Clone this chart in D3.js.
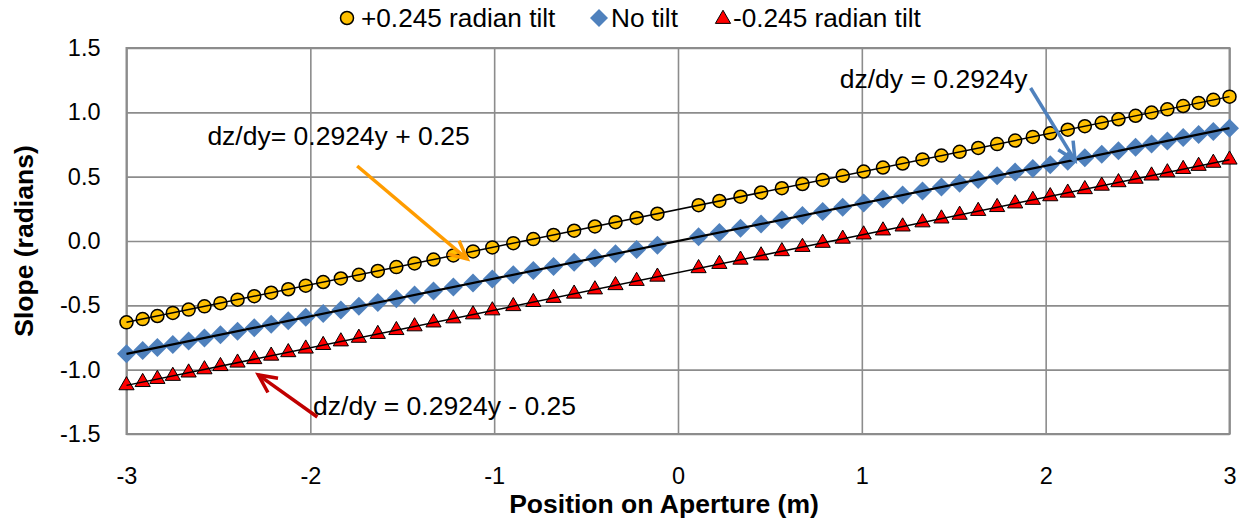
<!DOCTYPE html>
<html><head><meta charset="utf-8">
<script src="https://cdn.jsdelivr.net/npm/d3@7"></script>
<style>body{margin:0;background:#fff}svg{display:block;font-family:"Liberation Sans",Arial,sans-serif}</style>
</head><body><svg id="c" width="1241" height="520"></svg>
<script>
const position = [-3.0,-2.912,-2.832,-2.748,-2.662,-2.576,-2.489,-2.396,-2.305,-2.213,-2.120,-2.025,-1.930,-1.834,-1.736,-1.633,-1.532,-1.433,-1.330,-1.222,-1.115,-1.010,-0.896,-0.787,-0.677,-0.565,-0.452,-0.340,-0.225,-0.112,
 0.112,0.225,0.340,0.452,0.565,0.677,0.787,0.896,1.010,1.115,1.222,1.330,1.433,1.532,1.633,1.736,1.834,1.930,2.025,2.120,2.213,2.305,2.396,2.489,2.576,2.662,2.748,2.832,2.912,3.0];
const plusTilt = [-0.632,-0.607,-0.583,-0.559,-0.533,-0.508,-0.483,-0.456,-0.429,-0.402,-0.375,-0.347,-0.319,-0.291,-0.263,-0.233,-0.203,-0.174,-0.144,-0.112,-0.081,-0.050,-0.017,0.015,0.047,0.080,0.113,0.146,0.179,0.212,
 0.278,0.311,0.344,0.377,0.410,0.443,0.475,0.507,0.540,0.571,0.602,0.634,0.664,0.693,0.723,0.753,0.781,0.809,0.837,0.865,0.892,0.919,0.946,0.973,0.998,1.023,1.049,1.073,1.097,1.122];
const noTilt = [-0.877,-0.852,-0.828,-0.804,-0.778,-0.753,-0.728,-0.701,-0.674,-0.647,-0.620,-0.592,-0.564,-0.536,-0.508,-0.478,-0.448,-0.419,-0.389,-0.357,-0.326,-0.295,-0.262,-0.230,-0.198,-0.165,-0.132,-0.099,-0.066,-0.033,
 0.033,0.066,0.099,0.132,0.165,0.198,0.230,0.262,0.295,0.326,0.357,0.389,0.419,0.448,0.478,0.508,0.536,0.564,0.592,0.620,0.647,0.674,0.701,0.728,0.753,0.778,0.804,0.828,0.852,0.877];
const minusTilt = [-1.122,-1.097,-1.073,-1.049,-1.023,-0.998,-0.973,-0.946,-0.919,-0.892,-0.865,-0.837,-0.809,-0.781,-0.753,-0.723,-0.693,-0.664,-0.634,-0.602,-0.571,-0.540,-0.507,-0.475,-0.443,-0.410,-0.377,-0.344,-0.311,-0.278,
 -0.212,-0.179,-0.146,-0.113,-0.080,-0.047,-0.015,0.017,0.050,0.081,0.112,0.144,0.174,0.203,0.233,0.263,0.291,0.319,0.347,0.375,0.402,0.429,0.456,0.483,0.508,0.533,0.559,0.583,0.607,0.632];
const seriesNames = ["+0.245 radian tilt","No tilt","-0.245 radian tilt"];
const trendSlope = [0.2924,0.2924,0.2924];
const trendIntercept = [0.245,0,-0.245];
const xTicks = [-3,-2,-1,0,1,2,3];
const yTicks = [-1.5,-1.0,-0.5,0.0,0.5,1.0,1.5];
const annotationTexts = ["dz/dy= 0.2924y + 0.25","dz/dy = 0.2924y","dz/dy = 0.2924y - 0.25"];
const annotationAnchor = [[-2.56,0.746],[0.88,1.189],[-1.985,-1.352]];
const arrowStart = [[-1.745,0.583],[1.918,1.189],[-1.962,-1.368]];
const arrowEnd = [[-1.147,-0.14],[2.16,0.625],[-2.283,-1.041]];
const arrowColors = ["#FF9C00","#4F81BD","#C00000"];

const svg = d3.select("#c");
const x = d3.scaleLinear().domain([-3,3]).range([126.5,1229.5]);
const y = d3.scaleLinear().domain([-1.5,1.5]).range([434,48]);
const grid = "#8c8c8c";
const hy = f => v => f(v).replace("\u2212","-");

// gridlines
svg.append("g").attr("transform","translate(0,434)")
  .call(d3.axisBottom(x).tickValues(xTicks).tickSize(-386).tickFormat(hy(d3.format("d"))))
  .call(g=>{g.select(".domain").remove();
    g.selectAll(".tick line").attr("stroke",grid).attr("stroke-width",1.6);
    g.selectAll(".tick text").attr("y",33).attr("font-size",23.5).attr("fill","#000").attr("font-family","Liberation Sans, Arial");});
svg.append("g").attr("transform","translate(126.5,0)")
  .call(d3.axisLeft(y).tickValues(yTicks).tickSize(-1103).tickFormat(hy(d3.format(".1f"))))
  .call(g=>{g.select(".domain").remove();
    g.selectAll(".tick line").attr("stroke",grid).attr("stroke-width",1.6);
    g.selectAll(".tick text").attr("x",-26).attr("font-size",23.5).attr("fill","#000").attr("font-family","Liberation Sans, Arial");});
svg.append("rect").attr("x",x(-3)).attr("y",y(1.5)).attr("width",x(3)-x(-3)).attr("height",y(-1.5)-y(1.5))
  .attr("fill","none").attr("stroke",grid).attr("stroke-width",2);

const pts = (arr)=>position.map((p,i)=>[p,arr[i]]);
// diamonds
const dia = (cx,cy,h)=>`M${cx},${cy-h}L${cx+h},${cy}L${cx},${cy+h}L${cx-h},${cy}Z`;
svg.append("g").selectAll("path").data(pts(noTilt)).join("path")
  .attr("d",d=>dia(x(d[0]),y(d[1]),9.5)).attr("fill","#4F81BD");
// circles
svg.append("g").selectAll("circle").data(pts(plusTilt)).join("circle")
  .attr("cx",d=>x(d[0])).attr("cy",d=>y(d[1])).attr("r",6.5)
  .attr("fill","#FFC000").attr("stroke","#000").attr("stroke-width",1.5);
// triangles
const tri = d3.symbol().type(d3.symbolTriangle).size(100);
svg.append("g").selectAll("path").data(pts(minusTilt)).join("path")
  .attr("transform",d=>`translate(${x(d[0])},${y(d[1])})`).attr("d",tri)
  .attr("fill","#FF0000").attr("stroke","#000").attr("stroke-width",1);

// trendlines
trendSlope.forEach((s,i)=>{
  svg.append("line").attr("x1",x(-3)).attr("y1",y(s*-3+trendIntercept[i]))
    .attr("x2",x(3)).attr("y2",y(s*3+trendIntercept[i]))
    .attr("stroke","#000").attr("stroke-width",i===1?2.2:1.5);
});

// arrows
arrowStart.forEach((s,i)=>{
  const x1=x(s[0]),y1=y(s[1]),x2=x(arrowEnd[i][0]),y2=y(arrowEnd[i][1]);
  const a=Math.atan2(y2-y1,x2-x1), L=20, w=0.45;
  svg.append("line").attr("x1",x1).attr("y1",y1).attr("x2",x2).attr("y2",y2)
    .attr("stroke",arrowColors[i]).attr("stroke-width",3.5);
  svg.append("path").attr("d",`M${x2-L*Math.cos(a-w)},${y2-L*Math.sin(a-w)}L${x2},${y2}L${x2-L*Math.cos(a+w)},${y2-L*Math.sin(a+w)}`)
    .attr("fill","none").attr("stroke",arrowColors[i]).attr("stroke-width",3.5);
});

// annotation texts
annotationTexts.forEach((t,i)=>{
  svg.append("text").attr("x",x(annotationAnchor[i][0])).attr("y",y(annotationAnchor[i][1]))
    .attr("font-size",26.5).attr("fill","#000").text(t);
});

// axis titles
svg.append("text").attr("x",664).attr("y",513).attr("text-anchor","middle")
  .attr("font-size",26.5).attr("font-weight","bold").text("Position on Aperture (m)");
svg.append("text").attr("transform","translate(33,241) rotate(-90)").attr("text-anchor","middle")
  .attr("font-size",26.5).attr("font-weight","bold").text("Slope (radians)");

// legend
const lg = svg.append("g");
const legX = [347,599,723];
const legTextX = [361,611,733];
lg.append("circle").attr("cx",legX[0]).attr("cy",18).attr("r",6.5).attr("fill","#FFC000").attr("stroke","#000").attr("stroke-width",1.5);
lg.append("path").attr("d",dia(legX[1],18,9)).attr("fill","#4F81BD");
lg.append("path").attr("transform",`translate(${legX[2]},19)`).attr("d",tri).attr("fill","#FF0000").attr("stroke","#000").attr("stroke-width",1);
seriesNames.forEach((n,i)=>{
  lg.append("text").attr("x",legTextX[i]).attr("y",27).attr("font-size",26.2).text(n);
});
</script></body></html>
